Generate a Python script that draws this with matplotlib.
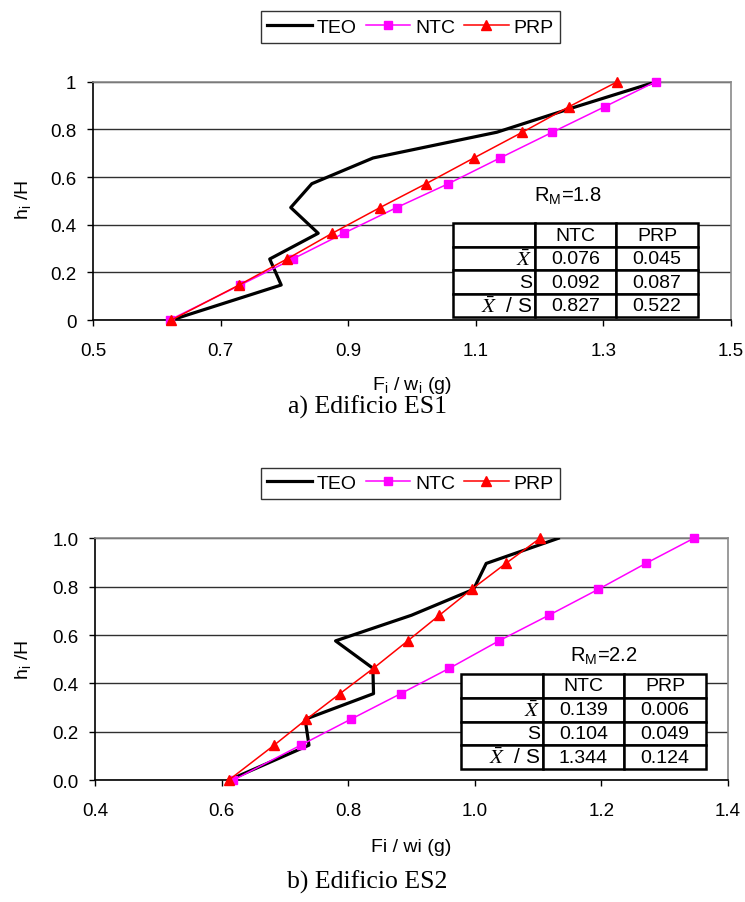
import matplotlib
matplotlib.use('Agg')
import matplotlib.pyplot as plt
from matplotlib.ticker import FuncFormatter
from matplotlib.table import Table

plt.rcParams.update({
    'font.family': ['Liberation Sans', 'DejaVu Sans'],
    'font.size': 13.5,
    'mathtext.fontset': 'custom',
    'mathtext.rm': 'Liberation Sans',
})

# ---- data: a) Edificio ES1 ----
H1 = [0, 0.147, 0.256, 0.364, 0.472, 0.572, 0.680, 0.788, 0.895, 1.0]
TEO1 = [0.623, 0.795, 0.777, 0.853, 0.810, 0.843, 0.939, 1.133, 1.257, 1.383]
NTC1 = [0.620, 0.731, 0.813, 0.893, 0.976, 1.057, 1.138, 1.220, 1.302, 1.382]
PRP1 = [0.623, 0.729, 0.804, 0.875, 0.950, 1.022, 1.097, 1.173, 1.246, 1.322]
TABLE1 = [['0.076', '0.045'], ['0.092', '0.087'], ['0.827', '0.522']]
RM1 = '1.8'

# ---- data: b) Edificio ES2 ----
H2 = [0, 0.145, 0.252, 0.358, 0.463, 0.576, 0.682, 0.789, 0.896, 1.0]
TEO2 = [0.611, 0.738, 0.732, 0.840, 0.839, 0.780, 0.900, 0.998, 1.018, 1.132]
NTC2 = [0.618, 0.725, 0.804, 0.883, 0.960, 1.038, 1.117, 1.195, 1.270, 1.346]
PRP2 = [0.611, 0.683, 0.734, 0.787, 0.840, 0.894, 0.944, 0.995, 1.049, 1.103]
TABLE2 = [['0.139', '0.006'], ['0.104', '0.049'], ['1.344', '0.124']]
RM2 = '2.2'

TABLE_COLS = ['NTC', 'PRP']
TABLE_ROWS = [r'$\bar{X}$', 'S', r'$\bar{X}$  / S']

fig = plt.figure(figsize=(7.45, 9.03), dpi=100)
ax1 = fig.add_axes([0.1248, 0.6445, 0.8564, 0.2639])
ax2 = fig.add_axes([0.1275, 0.1348, 0.8497, 0.2680])


def draw_table(ax, values, bbox):
    tab = Table(ax, bbox=bbox)
    cw, rh = 1.0 / 3, 1.0 / 4
    rows = [[''] + TABLE_COLS] + [[lab] + v for lab, v in zip(TABLE_ROWS, values)]
    for r, row in enumerate(rows):
        for c, txt in enumerate(row):
            loc = 'right' if c == 0 else 'center'
            cell = tab.add_cell(r, c, cw, rh, text=txt, loc=loc, facecolor='white')
            cell.set_linewidth(1.8)
            cell.PAD = 0.03
            t = cell.get_text()
            t.set_fontsize(14)
            t.set_math_fontfamily('stix')
            if '$' in txt:
                t.set_fontsize(15)
    tab.auto_set_font_size(False)
    tab.set_zorder(2.5)  # over the grid lines
    ax.add_table(tab)


def draw_panel(ax, H, teo, ntc, prp, xlim, xticks, yfmt, xlabel, rm, table, tbox, rmpos):
    ax.plot(teo, H, color='black', lw=2.3, label='TEO', zorder=3)
    ax.plot(ntc, H, color='#FF00FF', lw=1.1, marker='s', ms=6, label='NTC',
            clip_on=False, zorder=4)
    ax.plot(prp, H, color='#FF0000', lw=1.1, marker='^', ms=7.5, label='PRP',
            clip_on=False, zorder=5)
    ax.set_xlim(*xlim)
    ax.set_ylim(0, 1)
    ax.set_xticks(xticks)
    ax.set_yticks([0, 0.2, 0.4, 0.6, 0.8, 1.0])
    ax.yaxis.set_major_formatter(FuncFormatter(yfmt))
    ax.grid(axis='y', color='#303030', lw=1.0)
    ax.set_axisbelow(True)
    for s in ('top', 'right'):
        ax.spines[s].set_color('#8a8a8a')
        ax.spines[s].set_linewidth(1.2)
    for s in ('left', 'bottom'):
        ax.spines[s].set_linewidth(1.2)
    ax.tick_params(axis='x', direction='out', length=4, width=1, pad=12)
    ax.tick_params(axis='y', direction='out', length=4, width=1, pad=8)
    ax.set_xlabel(xlabel, fontsize=14)
    ax.set_ylabel(r'h$_\mathregular{i}$ /H', fontsize=14)
    ax.text(rmpos[0], rmpos[1], r'R$_\mathregular{M}$=' + rm, transform=ax.transAxes,
            ha='center', va='center', fontsize=14.5)
    draw_table(ax, table, tbox)


draw_panel(ax1, H1, TEO1, NTC1, PRP1, (0.5, 1.5), [0.5, 0.7, 0.9, 1.1, 1.3, 1.5],
           lambda v, p: f'{v:g}', r'F$_\mathregular{i}$ / w$_\mathregular{i}$ (g)',
           RM1, TABLE1, [0.5647, 0.0113, 0.3831, 0.3947], (0.744, 0.525))
ax1.yaxis.set_label_coords(-0.092, 0.508)
ax1.xaxis.set_label_coords(0.5, -0.228)

draw_panel(ax2, H2, TEO2, NTC2, PRP2, (0.4, 1.4), [0.4, 0.6, 0.8, 1.0, 1.2, 1.4],
           lambda v, p: f'{v:.1f}', 'Fi / wi (g)',
           RM2, TABLE2, [0.578, 0.0467, 0.387, 0.3923], (0.804, 0.516))
ax2.yaxis.set_label_coords(-0.096, 0.50)
ax2.xaxis.set_label_coords(0.5, -0.238)

for ax, yc in ((ax1, 0.969), (ax2, 0.4637)):
    leg = ax.legend(loc='center', bbox_to_anchor=(0.551, yc), bbox_transform=fig.transFigure,
                    ncol=3, fontsize=14, frameon=True, fancybox=False, edgecolor='black',
                    handlelength=2.3, handletextpad=0.25, columnspacing=0.45,
                    borderpad=0.35, borderaxespad=0, markerscale=1.0)
    leg.get_frame().set_linewidth(1.0)

fig.text(0.493, 0.5495, 'a) Edificio ES1', ha='center', va='center', fontsize=18.5,
         family='Liberation Serif')
fig.text(0.493, 0.0233, 'b) Edificio ES2', ha='center', va='center', fontsize=18.5,
         family='Liberation Serif')

fig.savefig('out.png', dpi=100)
